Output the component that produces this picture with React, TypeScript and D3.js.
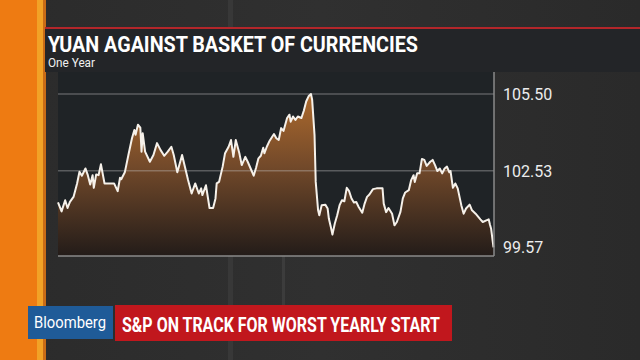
import React from 'react';
import * as d3 from 'd3';

// yuan vs CFETS basket, one year (days from start of window)
const days = [
    0, 3, 6, 8, 10, 13, 16, 18, 20, 23, 25, 27, 29, 30, 32, 34, 36, 39, 44, 47,
    50, 52, 53, 56, 59, 62, 64, 65, 67, 69, 70, 71, 73, 77, 80, 83, 86, 89, 92, 95,
    97, 100, 104, 106, 109, 112, 115, 118, 120, 121, 124, 127, 130, 132, 133, 135, 138, 140, 143, 145,
    147, 149, 152, 154, 157, 159, 162, 164, 166, 168, 170, 172, 173, 175, 177, 179, 181, 183, 185, 187,
    189, 192, 194, 195, 197, 199, 201, 204, 206, 208, 210, 212, 213, 215, 216, 218, 219, 221, 224, 226,
    227, 229, 230, 232, 234, 236, 238, 240, 242, 244, 246, 248, 250, 252, 255, 257, 259, 261, 264, 267,
    272, 273, 275, 277, 280, 282, 284, 287, 289, 291, 294, 296, 298, 299, 301, 303, 305, 307, 309, 312,
    314, 316, 318, 320, 322, 324, 326, 328, 329, 331, 333, 335, 338, 340, 342, 345, 347, 350, 354, 356,
    359, 361, 362, 363, 365
];

const values = [
    101.31, 100.96, 101.39, 101.09, 101.33, 101.52, 102.04, 102.49, 102.34, 102.62, 102.36, 102.00, 102.36, 101.87, 102.39, 102.36, 102.78, 102.04, 102.04, 102.04,
    101.74, 102.26, 102.20, 102.47, 103.14, 103.79, 104.11, 103.92, 104.31, 104.20, 103.27, 103.98, 103.27, 102.88, 103.14, 103.60, 103.33, 103.11, 103.27, 103.46,
    103.14, 102.47, 103.14, 102.75, 102.17, 101.65, 102.04, 101.65, 101.85, 101.59, 101.97, 101.09, 101.09, 101.46, 102.04, 102.10, 102.69, 103.21, 103.46, 103.72,
    103.07, 103.72, 103.21, 102.75, 103.07, 102.88, 102.56, 102.34, 102.65, 103.01, 103.11, 103.42, 103.21, 103.46, 103.66, 103.81, 103.95, 103.79, 103.72, 104.18,
    104.07, 104.57, 104.70, 104.43, 104.63, 104.50, 104.63, 104.57, 104.85, 105.21, 105.41, 105.50, 105.28, 103.92, 102.10, 101.00, 100.81, 101.20, 101.22, 101.07,
    100.68, 100.29, 100.06, 100.49, 100.81, 101.20, 101.39, 101.35, 101.87, 101.74, 101.46, 101.30, 101.32, 101.13, 100.91, 101.26, 101.52, 101.61, 101.82, 101.85,
    101.85, 101.26, 100.93, 101.09, 100.87, 100.42, 100.55, 100.94, 101.46, 101.69, 101.78, 102.17, 102.36, 102.10, 102.43, 102.43, 102.99, 102.95, 102.72, 102.88,
    102.95, 102.75, 102.52, 102.62, 102.43, 102.62, 102.69, 102.47, 102.52, 101.87, 102.04, 101.85, 101.20, 100.87, 101.07, 101.22, 101.00, 100.87, 100.65, 100.55,
    100.61, 100.65, 100.45, 100.29, 99.57
];

// axis labels: max, mid, min
const yTicks = [105.50, 102.53, 99.57];
const yTickLabels = ['105.50', '102.53', '99.57'];

const title = 'YUAN AGAINST BASKET OF CURRENCIES';
const subtitle = 'One Year';
const brand = 'Bloomberg';
const headline = 'S&P ON TRACK FOR WORST YEARLY START';

const W = 640;
const H = 360;

const App: React.FC = () => {
    const panel = { left: 58, right: 494, top: 72, bottom: 256 };
    const plot = { left: 58, right: 493.5, top: 94, bottom: 247.3 };

    const xScale = d3.scaleLinear()
        .domain([0, 365])
        .range([plot.left, plot.right]);

    const yScale = d3.scaleLinear()
        .domain(d3.extent(values) as [number, number])
        .range([plot.bottom, plot.top]);

    const points: [number, number][] = days.map((d, i) => [d, values[i]]);

    const areaPath = d3.area<[number, number]>()
        .x(d => xScale(d[0]))
        .y0(panel.bottom)
        .y1(d => yScale(d[1]))(points) || '';

    const linePath = d3.line<[number, number]>()
        .x(d => xScale(d[0]))
        .y(d => yScale(d[1]))(points) || '';

    const font = 'Roboto, "Liberation Sans", Arial, sans-serif';

    return (
        <svg width={W} height={H} style={{ position: 'absolute', left: 0, top: 0 }}>
            <defs>
                <linearGradient id="fillGrad" gradientUnits="userSpaceOnUse" x1="0" y1={plot.top} x2="0" y2={panel.bottom}>
                    <stop offset="0" stopColor="#ad6a2d" />
                    <stop offset="0.45" stopColor="#72492a" />
                    <stop offset="1" stopColor="#231c19" />
                </linearGradient>
                <linearGradient id="bgGrad" x1="0" y1="0" x2="1" y2="0">
                    <stop offset="0" stopColor="#2b2b2b" />
                    <stop offset="0.5" stopColor="#303030" />
                    <stop offset="1" stopColor="#2a2a2a" />
                </linearGradient>
            </defs>

            {/* backdrop */}
            <rect x={0} y={0} width={W} height={H} fill="url(#bgGrad)" />
            <rect x={228} y={0} width={5} height={H} fill="#383838" />
            <rect x={282} y={256} width={3} height={50} fill="#3c3c3c" />

            {/* orange side stripe */}
            <rect x={0} y={0} width={37} height={H} fill="#ee7b12" />
            <rect x={37} y={0} width={6} height={H} fill="#f2a226" />
            <rect x={43} y={0} width={3} height={H} fill="#c96c16" />

            {/* title bar */}
            <rect x={45} y={27} width={W - 45} height={45} fill="#232528" />
            <rect x={45} y={27} width={W - 45} height={2} fill="#b3262a" />
            <text x={48} y={51.5} fill="#ffffff" fontFamily={font} fontWeight="bold" fontSize={21.5}
                textLength={370} lengthAdjust="spacingAndGlyphs">{title}</text>
            <text x={48} y={67} fill="#f0f0f0" fontFamily={font} fontSize={12}
                textLength={47} lengthAdjust="spacingAndGlyphs">{subtitle}</text>

            {/* chart panel */}
            <rect x={panel.left} y={panel.top} width={panel.right - panel.left} height={panel.bottom - panel.top} fill="#1f2326" />
            <path d={areaPath} fill="url(#fillGrad)" />
            {yTicks.slice(0, 2).map(t => (
                <line key={t} x1={panel.left} x2={panel.right} y1={yScale(t)} y2={yScale(t)}
                    stroke="#c8c8c8" strokeOpacity={0.35} strokeWidth={1.5} />
            ))}
            <path d={linePath} fill="none" stroke="#f6f1ea" strokeWidth={2} strokeLinejoin="round" />
            <line x1={panel.right} x2={panel.right} y1={panel.top} y2={panel.bottom} stroke="#8a8a8a" strokeWidth={1.5} />
            <line x1={panel.left} x2={panel.right} y1={panel.bottom} y2={panel.bottom} stroke="#8a8a8a" strokeWidth={1.5} />

            {/* right axis labels */}
            {yTicks.map((t, i) => (
                <text key={t} x={503} y={yScale(t) + 6} fill="#ececec" fontFamily={font} fontSize={16}>
                    {yTickLabels[i]}
                </text>
            ))}

            {/* lower third */}
            <rect x={28} y={306} width={85} height={33} fill="#1f5b98" />
            <text x={34} y={328} fill="#ffffff" fontFamily={font} fontSize={17}
                textLength={72} lengthAdjust="spacingAndGlyphs">{brand}</text>
            <rect x={115} y={305} width={337} height={36} fill="#c1171d" />
            <text x={122} y={331.5} fill="#ffffff" fontFamily={font} fontWeight="bold" fontSize={20.5}
                textLength={318} lengthAdjust="spacingAndGlyphs">{headline}</text>
        </svg>
    );
};

export default App;
